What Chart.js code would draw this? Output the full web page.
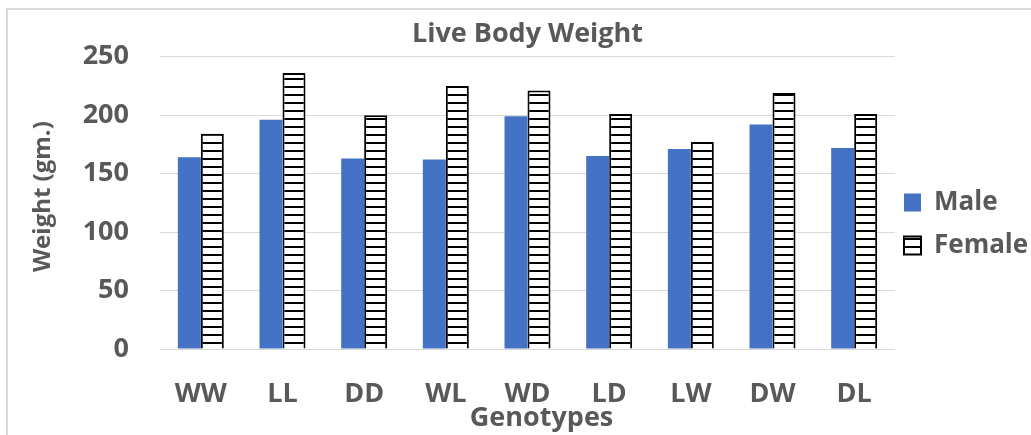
<!DOCTYPE html>
<html>
<head>
<meta charset="utf-8">
<title>Live Body Weight</title>
<script src="https://cdn.jsdelivr.net/npm/chart.js@4/dist/chart.umd.min.js"></script>
<style>
  html,body{margin:0;padding:0;background:#fff;}
  #wrap{width:1031px;height:435px;}
</style>
</head>
<body>
<div id="wrap"><canvas id="chart" width="1031" height="435"></canvas></div>
<script>
// ---- data ----
const genotypes     = ['WW','LL','DD','WL','WD','LD','LW','DW','DL'];
const maleWeights   = [164, 196, 163, 162, 199, 165, 171, 192, 172];
const femaleWeights = [184, 236, 200, 225, 221, 201, 177, 219, 201];
const weightTicks   = [0, 50, 100, 150, 200, 250];

const FONT = '"Open Sans"';
const GREY = '#595959';
const txt = (size, lh) => ({family:FONT, size, weight:'bold', lineHeight:lh || 1.2});

// horizontal-line hatch used for the Female bars
function hatch(){
  const c = document.createElement('canvas');
  c.width = 8; c.height = 8;
  const g = c.getContext('2d');
  g.fillStyle = '#fff'; g.fillRect(0,0,8,8);
  g.fillStyle = '#000'; g.fillRect(0,6,8,2);
  return g.createPattern(c,'repeat');
}
const stripes = hatch();

// thin frame round the chart, like the Excel chart border
const frame = {
  id:'frame',
  beforeDraw(chart){
    const ctx = chart.ctx;
    ctx.save();
    ctx.strokeStyle = '#d9d9d9'; ctx.lineWidth = 2;
    ctx.strokeRect(7, 9, 1200, 800);
    ctx.restore();
  }
};

new Chart(document.getElementById('chart'), {
  type:'bar',
  data:{
    labels: genotypes,
    datasets:[
      {label:'Male', data:maleWeights, backgroundColor:'#4472C4', borderWidth:0,
       categoryPercentage:0.563, barPercentage:1},
      {label:'Female', data:femaleWeights, backgroundColor:stripes, borderColor:'#000', borderWidth:2,
       categoryPercentage:0.563, barPercentage:1}
    ]
  },
  options:{
    responsive:false, animation:false,
    layout:{padding:{top:21, left:0, right:2, bottom:0}},
    plugins:{
      title:{display:true, text:'Live Body Weight', color:GREY, fullSize:false,
        font:txt(27), padding:{top:-2.7, bottom:6}},
      legend:{
        position:'right', maxWidth:134,
        labels:{
          color:GREY, boxWidth:17, boxHeight:18, padding:9,
          font:txt(26, '34px'),
          generateLabels(chart){
            const items = Chart.defaults.plugins.legend.labels.generateLabels(chart);
            items.forEach(it => { it.text = [it.text]; });
            return items;
          }
        }
      },
      tooltip:{enabled:false}
    },
    scales:{
      x:{
        grid:{display:false, drawTicks:false}, border:{display:false},
        ticks:{color:GREY, padding:28.8, font:txt(27)},
        title:{display:true, text:'    Genotypes', color:GREY, font:txt(27),
          padding:{top:-36.7, bottom:0.3}}
      },
      y:{
        min:0, max:250,
        afterBuildTicks(s){ s.ticks = weightTicks.map(v => ({value:v})); },
        afterFit(s){ s.width = 160; },
        grid:{color:'#d9d9d9', lineWidth:1, drawTicks:false}, border:{display:false},
        ticks:{color:GREY, padding:31, font:txt(27)},
        title:{display:true, text:'  Weight (gm.)', color:GREY, font:txt(24),
          padding:{top:29.1, bottom:0}}
      }
    }
  },
  plugins:[frame]
});
</script>
</body>
</html>
